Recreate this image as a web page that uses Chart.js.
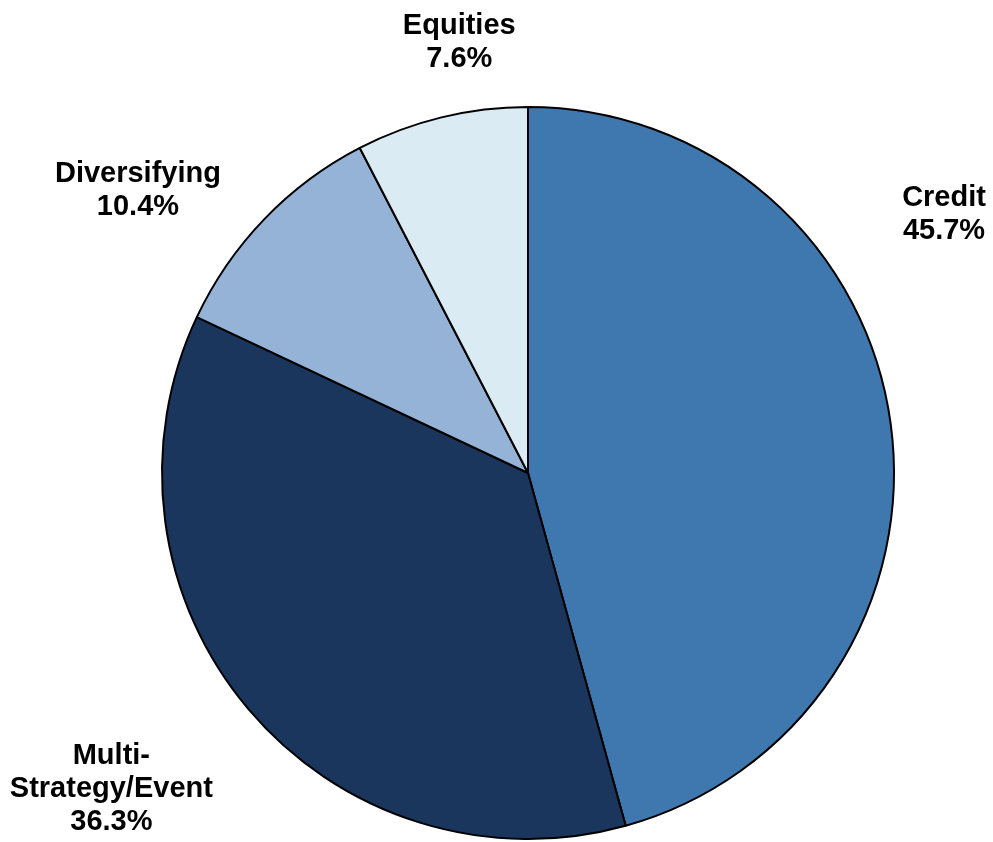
<!DOCTYPE html>
<html>
<head>
<meta charset="utf-8">
<script src="https://cdn.jsdelivr.net/npm/chart.js@4.4.0/dist/chart.umd.min.js"></script>
<style>
  html, body { margin: 0; padding: 0; background: #fff; }
  #wrap { width: 993px; height: 842px; position: relative; }
</style>
</head>
<body>
<div id="wrap"><canvas id="allocChart"></canvas></div>
<script>
// Strategy allocation (percent of total)
const categories = ["Credit", "Multi-Strategy/Event", "Diversifying", "Equities"];
const labelLines = [["Credit"], ["Multi-", "Strategy/Event"], ["Diversifying"], ["Equities"]];
const allocation = [45.7, 36.3, 10.4, 7.6];

const sliceColors = ["#3F78AF", "#1A365D", "#95B3D7", "#DAEBF3"];

// where each label sits: shift from the slice's mid angle (deg) and distance as a multiple of the radius
const labelAngleShift = [-24.1, 3.0, -8.0, 4.6];
const labelDistance = [1.338, 1.428, 1.316, 1.19];

// Draw outside labels (name + percent) next to each slice
const outsideLabels = {
  id: "outsideLabels",
  afterDatasetsDraw(chart) {
    const ctx = chart.ctx;
    const meta = chart.getDatasetMeta(0);
    const fontSize = 29;
    const lineH = 33;
    ctx.save();
    ctx.fillStyle = "#000";
    ctx.font = "bold " + fontSize + "px 'Liberation Sans', Arial, sans-serif";
    ctx.textAlign = "center";
    ctx.textBaseline = "middle";
    meta.data.forEach((arc, i) => {
      const mid = (arc.startAngle + arc.endAngle) / 2 + labelAngleShift[i] * Math.PI / 180;
      const d = arc.outerRadius * labelDistance[i];
      const x = arc.x + Math.cos(mid) * d;
      const y = arc.y + Math.sin(mid) * d;
      const lines = labelLines[i].concat([allocation[i].toFixed(1) + "%"]);
      const top = y - (lines.length - 1) * lineH / 2;
      lines.forEach((t, k) => ctx.fillText(t, x, top + k * lineH));
    });
    ctx.restore();
  }
};

new Chart(document.getElementById("allocChart"), {
  type: "pie",
  data: {
    labels: categories,
    datasets: [{
      data: allocation,
      backgroundColor: sliceColors,
      borderColor: "#000",
      borderWidth: 2
    }]
  },
  options: {
    responsive: true,
    maintainAspectRatio: false,
    animation: false,
    layout: { padding: { top: 106, bottom: 2, left: 161, right: 98 } },
    plugins: {
      legend: { display: false },
      tooltip: { enabled: false }
    }
  },
  plugins: [outsideLabels]
});
</script>
</body>
</html>
